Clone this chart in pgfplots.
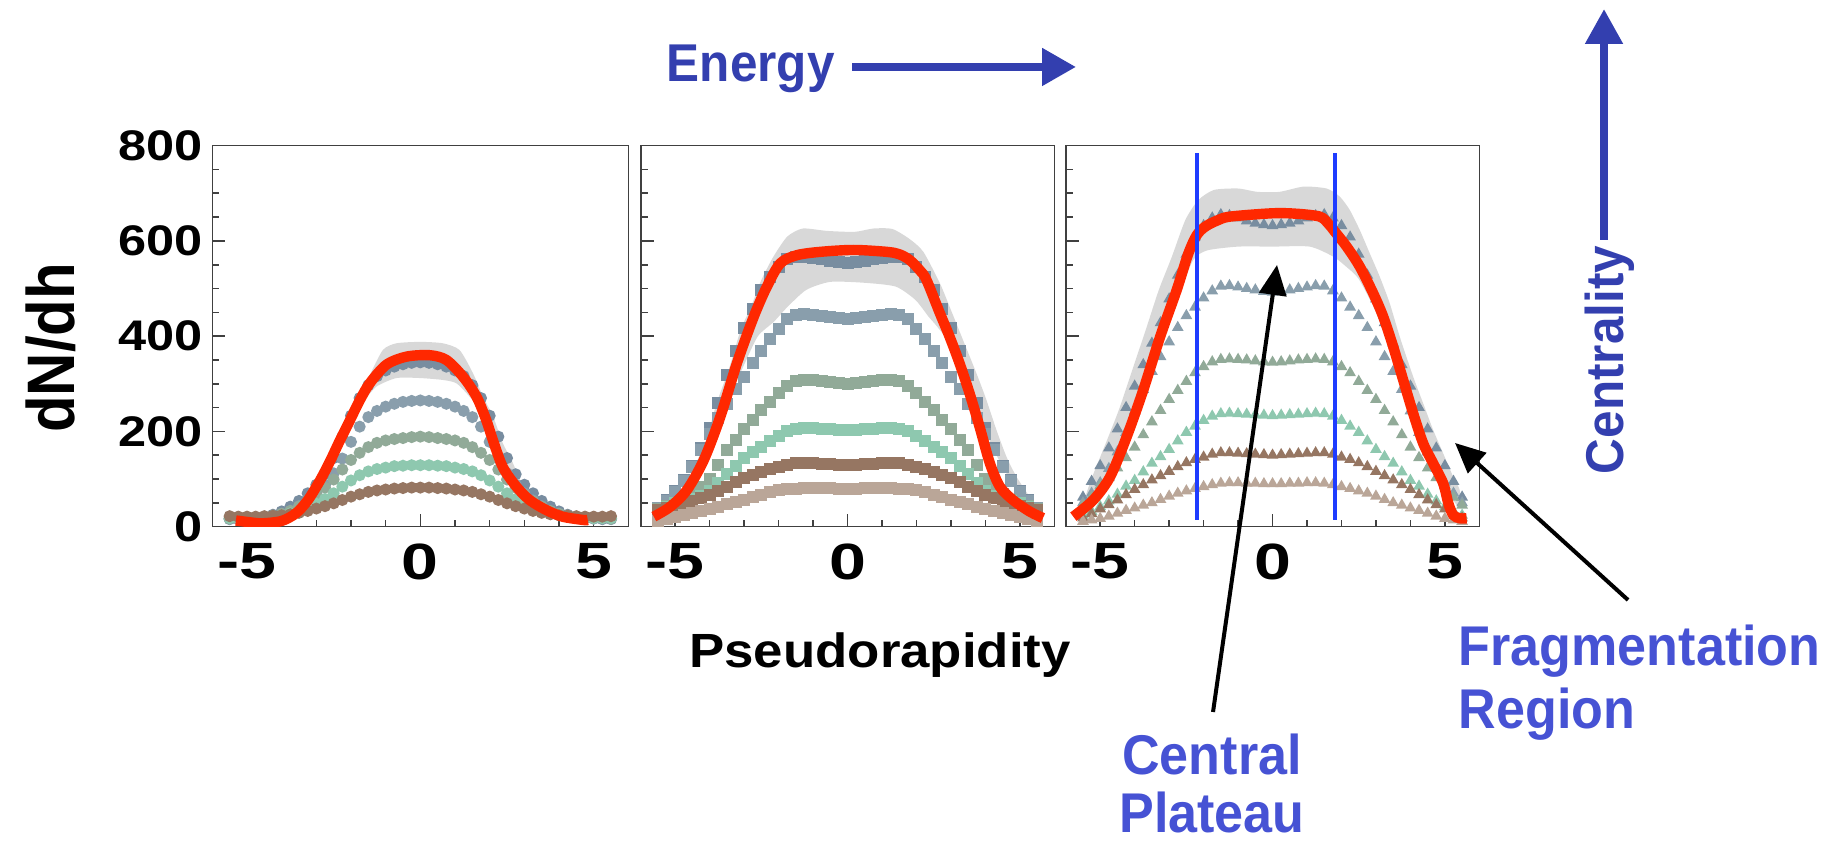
\documentclass[border=0pt]{standalone}
\usepackage{fontspec}
\setmainfont{Liberation Sans}
\newfontfamily\ytf[FakeStretch=1.18]{Liberation Sans}
\newfontfamily\xtf[FakeStretch=1.3]{Liberation Sans}
\newfontfamily\labf[FakeStretch=1.1]{Liberation Sans}
\newfontfamily\annf[FakeStretch=0.93]{Liberation Sans}
\usepackage{pgfplots}
\usepackage{pgfplotstable}
\pgfplotsset{compat=1.18}
\usetikzlibrary{arrows.meta}

\definecolor{cS1}{RGB}{120,141,160}
\definecolor{cS2}{RGB}{137,158,172}
\definecolor{cS3}{RGB}{145,170,152}
\definecolor{cS4}{RGB}{142,200,175}
\definecolor{cS5}{RGB}{150,118,98}
\definecolor{cS6}{RGB}{186,166,152}
\definecolor{bandc}{RGB}{216,216,216}
\definecolor{redc}{RGB}{255,40,0}
\definecolor{vline}{RGB}{30,60,255}
\definecolor{dblue}{RGB}{51,63,175}
\definecolor{lblue}{RGB}{70,82,212}

% lowest energy (circles)
\pgfplotstableread{
x a b c d e
-5.5 16 16 17 18 22
-5.25 16 16 18 18 21
-5 17 17 18 18 21
-4.75 18 18 19 19 21
-4.5 20 20 21 20 22
-4.25 25 23 23 22 23
-4 32 27 27 24 24
-3.75 42 33 33 28 26
-3.5 54 43 42 33 29
-3.25 70 55 53 40 33
-3 88 70 67 48 38
-2.75 110 88 82 58 43
-2.5 144 112 99 70 49
-2.25 189 143 120 84 56
-2 233 178 140 97 63
-1.75 270 210 155 108 68
-1.5 297 230 167 116 73
-1.25 316 243 176 121 76
-1 328 252 181 124 78
-0.75 336 258 184 127 80
-0.5 341 262 186 128 81
-0.25 344 264 188 129 82
0 345 265 189 129 82
0.25 344 264 188 129 82
0.5 341 262 186 128 81
0.75 336 258 184 127 80
1 328 252 181 124 78
1.25 316 243 176 121 76
1.5 297 230 167 116 73
1.75 270 210 155 108 68
2 233 178 140 97 63
2.25 189 143 120 84 56
2.5 144 112 99 70 49
2.75 110 88 82 58 43
3 88 70 67 48 38
3.25 70 55 53 40 33
3.5 54 43 42 33 29
3.75 42 33 33 28 26
4 32 27 27 24 24
4.25 25 23 23 22 23
4.5 20 20 21 20 22
4.75 18 18 19 19 21
5 17 17 18 18 21
5.25 16 16 18 18 21
5.5 16 16 17 18 22
}\pone

% middle energy (squares)
\pgfplotstableread{
x a b c d e f
-5.5 40 40 38 36 35 12
-5.25 56 54 44 42 39 16
-5 74 72 50 49 43 20
-4.75 98 96 57 53 47 25
-4.5 128 125 68 58 53 29
-4.25 165 160 84 65 60 33
-4 208 195 100 74 67 37
-3.75 260 228 130 92 75 42
-3.5 318 258 160 110 84 47
-3.25 368 288 182 128 94 52
-3 418 315 205 145 102 57
-2.75 458 343 225 156 108 62
-2.5 496 368 244 167 115 67
-2.25 525 395 262 179 121 72
-2 546 414 281 190 126 77
-1.75 562 435 295 200 130 79
-1.5 566 445 306 206 133 80
-1.25 567 447 308 208 134 81
-1 565 445 307 207 133 81
-0.75 562 443 305 206 132 81
-0.5 558 440 303 205 131 81
-0.25 555 438 301 204 130 80
0 553 437 300 203 129 80
0.25 555 438 301 204 130 80
0.5 558 440 303 205 131 81
0.75 562 443 305 206 132 81
1 565 445 307 207 133 81
1.25 567 447 308 208 134 81
1.5 566 445 306 206 133 80
1.75 562 435 295 200 130 79
2 546 414 281 190 126 77
2.25 525 395 262 179 121 72
2.5 496 368 244 167 115 67
2.75 458 343 225 156 108 62
3 418 315 205 145 102 57
3.25 368 288 182 128 94 52
3.5 318 258 160 110 84 47
3.75 260 228 130 92 75 42
4 208 195 100 74 67 37
4.25 165 160 84 65 60 33
4.5 128 125 68 58 53 29
4.75 98 96 57 53 47 25
5 74 72 50 49 43 20
5.25 56 54 44 42 39 16
5.5 40 40 38 36 35 12
}\ptwo

% highest energy (triangles)
\pgfplotstableread{
x a b c d e f
-5.5 62 50 45 24 18 11
-5.25 95 70 62 32 27 14
-5 128 92 86 42 37 17
-4.75 165 122 103 54 46 22
-4.5 205 157 123 68 56 28
-4.25 250 198 145 85 67 34
-4 295 243 167 97 78 39
-3.75 340 288 193 115 88 45
-3.5 385 326 220 133 98 50
-3.25 428 357 244 147 107 57
-3 478 388 267 162 116 64
-2.75 528 418 286 180 126 70
-2.5 572 443 305 198 134 75
-2.25 608 461 323 211 141 80
-2 632 480 336 223 146 84
-1.75 648 495 346 232 152 88
-1.5 655 505 351 237 155 91
-1.25 653 506 352 238 155 92
-1 648 503 351 237 154 92
-0.75 642 500 350 236 153 91
-0.5 637 497 348 235 152 91
-0.25 634 494 346 234 151 90
0 632 492 345 233 150 90
0.25 634 494 346 234 151 90
0.5 637 497 348 235 152 91
0.75 642 500 350 236 153 91
1 648 503 351 237 154 92
1.25 653 506 352 238 155 92
1.5 655 505 351 237 155 91
1.75 648 495 346 232 152 88
2 632 480 336 223 146 84
2.25 608 461 323 211 141 80
2.5 572 443 305 198 134 75
2.75 528 418 286 180 126 70
3 478 388 267 162 116 64
3.25 428 357 244 147 107 57
3.5 385 326 220 133 98 50
3.75 340 288 193 115 88 45
4 295 243 167 97 78 39
4.25 250 198 145 85 67 34
4.5 205 157 123 68 56 28
4.75 165 122 103 54 46 22
5 128 92 86 42 37 17
5.25 95 70 62 32 27 14
5.5 62 50 45 24 18 11
}\pthree

\pgfplotsset{
  panel/.style={
    scale only axis, anchor=south west, height=95.25pt,
    xmin=-6, xmax=6, ymin=0, ymax=800,
    clip marker paths=true,
    /pgf/number format/assume math mode=true,
    xtick={0}, xticklabels={0},
    extra x ticks={-5,5}, extra x tick labels={-5,5},
    extra x tick style={major tick length=1.75pt},
    minor xtick={-4,-3,-2,-1,1,2,3,4},
    ytick={0,200,400,600,800},
    minor ytick={50,100,150,250,300,350,450,500,550,650,700,750},
    tick align=inside, xtick pos=bottom, ytick pos=left,
    major tick length=3.25pt, minor tick length=1.75pt,
    axis line style={black!75, line width=0.4pt},
    tick style={black!75, line width=0.4pt},
    xticklabel style={font=\xtf\bfseries\fontsize{12.75}{14}\selectfont, inner sep=0pt, yshift=-4pt},
    yticklabel style={font=\ytf\bfseries\fontsize{10.7}{12}\selectfont, inner sep=0pt, xshift=-2.3pt},
  },
  band/.style={fill=bandc, draw=none, smooth, tension=0.4},
  redfit/.style={redc, line width=2.6pt, smooth, tension=0.5, no markers},
  circ/.style={only marks, mark=*, mark size=1.3pt, color=#1},
  sqr/.style={only marks, mark=square*, mark size=1.3pt, color=#1},
  tri/.style={only marks, mark=triangle*, mark size=1.3pt, color=#1},
}

\begin{document}
\begin{tikzpicture}
\useasboundingbox (0,0) rectangle (461.75pt,210.25pt);

\begin{axis}[panel, at={(53.08pt,78.58pt)}, width=104pt, yticklabels={0,200,400,600,800}]
\addplot[band] coordinates {(-2.1,215) (-1.85,255) (-1.65,285) (-1.46,318) (-1.08,371) (-0.69,385) (0,388) (0.65,385) (1.13,371) (1.52,322) (1.81,273) (2.1,231) (2.38,175) (2.63,140) (2.9,95) (3.1,70) (2.9,62) (2.6,95) (2.3,140) (2.0,195) (1.7,245) (1.42,273) (1.04,301) (0.65,308) (0,312) (-0.69,312) (-1.27,294) (-1.6,265) (-1.9,228) (-2.1,200)} -- cycle;
\addplot[circ=cS1] table[y=a] {\pone};
\addplot[circ=cS2] table[y=b] {\pone};
\addplot[circ=cS3] table[y=c] {\pone};
\addplot[circ=cS4] table[y=d] {\pone};
\addplot[circ=cS5] table[y=e] {\pone};
\addplot[redfit] coordinates {(-5.32,13) (-4.9,9) (-4.55,7) (-4.0,12) (-3.59,28) (-3.25,55) (-2.91,95) (-2.62,135) (-2.34,178) (-2.04,222) (-1.75,265) (-1.46,301) (-0.98,340) (-0.4,357) (0.27,360) (0.75,350) (1.23,315) (1.62,273) (1.9,224) (2.1,180) (2.38,125) (2.77,84) (3.15,56) (3.63,35) (4.1,21) (4.7,14) (4.83,14)};
\end{axis}

\begin{axis}[panel, at={(160.18pt,78.58pt)}, width=103.4pt, yticklabels={}]
\addplot[band] coordinates {(-5.0,50) (-4.7,84) (-4.4,133) (-4.1,182) (-3.8,259) (-3.45,329) (-3.1,413) (-2.8,462) (-2.5,518) (-2.15,567) (-1.75,609) (-1.3,626) (-0.6,621) (0.2,619) (0.75,626) (1.3,625) (1.8,604) (2.2,577) (2.68,511) (2.96,462) (3.35,392) (3.74,322) (4.03,266) (4.32,203) (4.61,147) (4.9,105) (5.28,63) (5.45,45) (5.45,35) (5.0,70) (4.5,125) (4.0,200) (3.5,290) (3.0,380) (2.6,420) (2.35,441) (1.97,476) (1.4,504) (0.5,512) (-0.5,514) (-1.2,497) (-1.76,460) (-2.14,430) (-2.6,400) (-3.0,340) (-3.5,260) (-4.0,170) (-4.4,115) (-4.7,75) (-5.0,40)} -- cycle;
\addplot[sqr=cS1] table[y=a] {\ptwo};
\addplot[sqr=cS2] table[y=b] {\ptwo};
\addplot[sqr=cS3] table[y=c] {\ptwo};
\addplot[sqr=cS4] table[y=d] {\ptwo};
\addplot[sqr=cS5] table[y=e] {\ptwo};
\addplot[sqr=cS6] table[y=f] {\ptwo};
\addplot[redfit] coordinates {(-5.62,21) (-5.14,42) (-4.66,77) (-4.17,140) (-3.69,231) (-3.21,343) (-2.72,441) (-2.34,504) (-1.95,553) (-1.47,570) (-0.79,577) (0.17,581) (1.14,577) (1.5,572) (1.8,560) (2.1,538) (2.29,518) (2.68,448) (2.96,399) (3.25,343) (3.54,280) (3.83,210) (4.13,133) (4.42,84) (4.8,56) (5.28,32) (5.67,18)};
\end{axis}

\begin{axis}[panel, at={(266.43pt,78.58pt)}, width=103.4pt, yticklabels={}]
\addplot[band] coordinates {(-5.4,70) (-5.23,105) (-4.84,175) (-4.46,245) (-4.07,329) (-3.68,413) (-3.3,497) (-2.92,567) (-2.53,644) (-2.15,686) (-1.7,707) (-1.0,710) (-0.44,703) (0.2,703) (0.9,714) (1.57,710) (1.95,693) (2.24,665) (2.53,623) (2.82,574) (3.11,525) (3.4,469) (3.69,399) (4.08,315) (4.37,259) (4.66,203) (4.95,154) (5.24,105) (5.43,77) (5.43,40) (5.2,60) (4.9,100) (4.5,160) (4.0,245) (3.5,350) (3.0,450) (2.5,520) (2.15,545) (1.76,567) (1.08,588) (0,588) (-1.0,588) (-1.9,580) (-2.3,560) (-2.7,490) (-3.2,400) (-3.7,300) (-4.2,200) (-4.7,120) (-5.2,60) (-5.4,45)} -- cycle;
\addplot[tri=cS1] table[y=a] {\pthree};
\addplot[tri=cS2] table[y=b] {\pthree};
\addplot[tri=cS3] table[y=c] {\pthree};
\addplot[tri=cS4] table[y=d] {\pthree};
\addplot[tri=cS5] table[y=e] {\pthree};
\addplot[tri=cS6] table[y=f] {\pthree};
\addplot[redfit] coordinates {(-5.78,21) (-5.2,56) (-4.71,105) (-4.23,189) (-3.75,287) (-3.26,399) (-2.78,497) (-2.45,572) (-2.2,612) (-1.95,630) (-1.6,643) (-1.23,651) (0,658) (0.7,657) (1.37,651) (1.62,636) (1.8,620) (2.15,588) (2.53,546) (2.92,490) (3.21,441) (3.5,378) (3.79,308) (4.08,238) (4.37,175) (4.66,133) (4.95,91) (5.1,49) (5.24,24.5) (5.43,17.6) (5.63,17.6)};
\addplot[vline, line width=1pt] coordinates {(-2.2,15) (-2.2,785)};
\addplot[vline, line width=1pt] coordinates {(1.81,15) (1.81,785)};
\end{axis}

% axis titles
\node[rotate=90, yscale=1.12, anchor=base, inner sep=0pt, font=\bfseries\fontsize{15}{18}\selectfont] at (18.5pt,123.25pt) {dN/dh};
\node[anchor=base, inner sep=0pt, font=\labf\bfseries\fontsize{12}{14}\selectfont] at (220pt,43.25pt) {Pseudorapidity};

% energy and centrality arrows
\node[anchor=base west, inner sep=0pt, text=dblue, font=\annf\bfseries\fontsize{13.3}{15}\selectfont] at (166.5pt,189.75pt) {Energy};
\draw[dblue, line width=2pt, -{Triangle[length=8.5pt,width=9pt]}] (213pt,193.5pt) -- (269pt,193.5pt);
\draw[dblue, line width=2pt, -{Triangle[length=8.75pt,width=9pt]}] (401pt,150.25pt) -- (401pt,208pt);
\node[rotate=90, anchor=base, inner sep=0pt, text=dblue, font=\annf\bfseries\fontsize{13.3}{15}\selectfont] at (405.75pt,120.25pt) {Centrality};

% region annotations
\node[anchor=base, inner sep=0pt, text=lblue, font=\annf\bfseries\fontsize{14}{16}\selectfont] at (303pt,16.5pt) {Central};
\node[anchor=base, inner sep=0pt, text=lblue, font=\annf\bfseries\fontsize{14}{16}\selectfont] at (303pt,2pt) {Plateau};
\node[anchor=base west, inner sep=0pt, text=lblue, font=\annf\bfseries\fontsize{14}{16}\selectfont] at (364.5pt,43.75pt) {Fragmentation};
\node[anchor=base west, inner sep=0pt, text=lblue, font=\annf\bfseries\fontsize{14}{16}\selectfont] at (364.5pt,28pt) {Region};
\draw[black, line width=1pt, -{Triangle[length=7.5pt,width=6.75pt]}] (303.25pt,32.25pt) -- (319.25pt,144pt);
\draw[black, line width=1pt, -{Triangle[length=7.5pt,width=6.75pt]}] (407pt,60.25pt) -- (363.75pt,99.5pt);
\end{tikzpicture}
\end{document}
